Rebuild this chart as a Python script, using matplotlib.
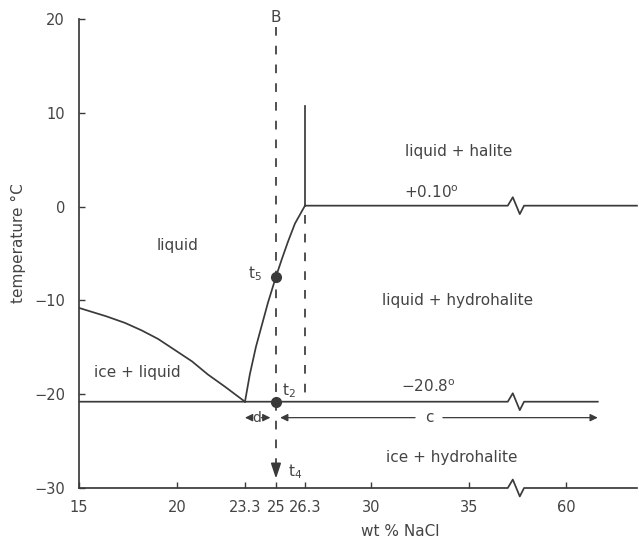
import numpy as np
import matplotlib.pyplot as plt

# wt % NaCl axis: ticks and the stretched / broken spacing used in the figure
x_ticks = [15, 20, 23.3, 25, 26.3, 30, 35, 60]
x_labels = ['15', '20', '23.3', '25', '26.3', '30', '35', '60']
x_knots = [15, 20, 23.3, 25, 26.3, 30, 35, 60, 78.3]
x_pos = [79, 177, 245, 276, 305, 371, 469, 566, 637]
y_ticks = [20, 10, 0, -10, -20, -30]

# ice liquidus (ice + liquid boundary)
ice_x = [15, 16.4, 17.35, 18.2, 19.03, 19.9, 20.73, 21.5, 22.33, 23.3]
ice_t = [-10.8, -11.7, -12.4, -13.2, -14.1, -15.3, -16.5, -17.9, -19.2, -20.8]

# hydrohalite liquidus
hh_x = [23.3, 23.57, 23.9, 24.23, 24.56, 25, 25.27, 25.54, 25.85, 26.3]
hh_t = [-20.8, -17.85, -14.96, -12.6, -10.25, -7.47, -5.55, -3.73, -1.81, 0.1]

eutectic_t = -20.8
peritectic_t = 0.10
peritectic_x = 26.3
halite_top = 10.7
break_x = 47
line_end = 68.2
x_max = 78.3

# composition B and its cooling path
bulk_x = 25
t5 = -7.5
t2 = -20.8
b_top = 19.1
b_bottom = -29.0

lc = '#3a3a3a'
tc = '#444444'
lw = 1.25
dash = (0, (5, 5.8))


def fwd(x):
    return np.interp(x, x_knots, x_pos)


def inv(p):
    return np.interp(p, x_pos, x_knots)


def broken(x0, x1, y, bx=break_x):
    # horizontal line with a zigzag break mark
    xs = [x0, bx - 2.0, bx - 0.7, bx + 1.1, bx + 2.2, x1]
    ys = [y, y, y + 0.9, y - 0.9, y, y]
    return xs, ys


fig = plt.figure(figsize=(6.39, 5.40), dpi=100)
ax = fig.add_axes([0.1236, 0.0963, 0.8732, 0.8685])
ax.set_xscale('function', functions=(fwd, inv))
ax.set_xlim(15, x_max)
ax.set_ylim(-30, 20)

# phase boundaries
ax.plot(ice_x, ice_t, color=lc, lw=lw)
ax.plot(hh_x, hh_t, color=lc, lw=lw)
ax.plot(*broken(15, line_end, eutectic_t), color=lc, lw=lw)
ax.plot(*broken(peritectic_x, x_max, peritectic_t), color=lc, lw=lw, clip_on=False)
ax.plot([peritectic_x, peritectic_x], [peritectic_t, halite_top], color=lc, lw=lw)
ax.plot([peritectic_x, peritectic_x], [-0.9, -20.1], color=lc, lw=lw, ls=dash)

# bottom axis line with break
ax.plot(*broken(15, x_max, -30), color=lc, lw=lw, clip_on=False)

# path of B
ax.plot([bulk_x, bulk_x], [b_top, -27.4], color=lc, lw=lw, ls=dash, clip_on=False)
ax.annotate('', xy=(bulk_x, b_bottom), xytext=(bulk_x, -27.4),
            arrowprops=dict(arrowstyle='-|>,head_length=0.9,head_width=0.3',
                            color=lc, lw=lw, shrinkA=0, shrinkB=0))
ax.plot([bulk_x, bulk_x], [t5, t2], 'o', ms=7, color=lc)

# d and c proportions
yd = -22.5
ap = dict(arrowstyle='-|>,head_length=0.45,head_width=0.22', color=lc, lw=0.9, shrinkA=0)
ax.annotate('', xy=(23.3, yd), xytext=(23.72, yd), arrowprops=dict(ap, shrinkB=0))
ax.annotate('', xy=(bulk_x, yd), xytext=(24.2, yd), arrowprops=dict(ap, shrinkB=4))
ax.text(23.96, yd, 'd', ha='center', va='center', fontsize=10, color=tc)
ax.annotate('', xy=(bulk_x, yd), xytext=(32.25, yd), arrowprops=dict(ap, shrinkB=3))
ax.annotate('', xy=(line_end, yd), xytext=(33.67, yd), arrowprops=dict(ap, shrinkB=0))
ax.text(33.0, yd, 'c', ha='center', va='center', fontsize=11, color=tc)

# labels
fs = 11
ax.text(bulk_x, 20.2, 'B', ha='center', va='center', fontsize=fs, color=tc)
ax.text(24.23, -7.2, r'$\mathregular{t_5}$', ha='right', va='center', fontsize=fs, color=tc)
ax.text(25.27, -19.6, r'$\mathregular{t_2}$', ha='left', va='center', fontsize=fs, color=tc)
ax.text(25.54, -28.3, r'$\mathregular{t_4}$', ha='left', va='center', fontsize=fs, color=tc)
ax.text(34.5, 5.9, 'liquid + halite', ha='center', va='center', fontsize=fs, color=tc)
ax.text(33.1, 1.5, r'+0.10$^\mathregular{o}$', ha='center', va='center', fontsize=fs, color=tc)
ax.text(20.05, -4.1, 'liquid', ha='center', va='center', fontsize=fs, color=tc)
ax.text(34.4, -10.0, 'liquid + hydrohalite', ha='center', va='center', fontsize=fs, color=tc)
ax.text(18.0, -17.7, 'ice + liquid', ha='center', va='center', fontsize=fs, color=tc)
ax.text(32.9, -19.2, r'$-$20.8$^\mathregular{o}$', ha='center', va='center', fontsize=fs, color=tc)
ax.text(34.1, -26.7, 'ice + hydrohalite', ha='center', va='center', fontsize=fs, color=tc)

# axes styling
for s in ['top', 'right', 'bottom']:
    ax.spines[s].set_visible(False)
ax.spines['left'].set_color(lc)
ax.spines['left'].set_linewidth(lw)
ax.set_xticks(x_ticks)
ax.set_xticklabels(x_labels)
ax.set_yticks(y_ticks)
ax.minorticks_off()
ax.tick_params(direction='in', length=4, width=1, color=lc, labelcolor=tc, labelsize=10.5)
ax.tick_params(axis='y', pad=10)
ax.tick_params(axis='x', pad=9)

ax.set_xlabel('wt % NaCl', fontsize=fs, color=tc)
ax.xaxis.set_label_coords(0.575, -0.077)
ax.set_ylabel('temperature °C', fontsize=fs, color=tc)
ax.yaxis.set_label_coords(-0.095, 0.522)

fig.savefig('out.png', dpi=100)
